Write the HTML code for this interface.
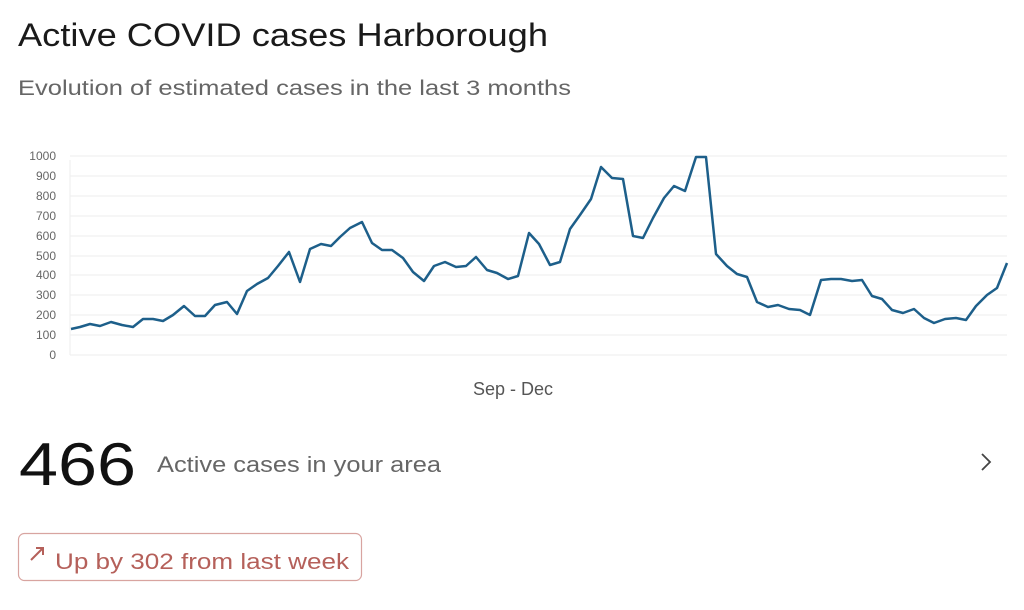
<!DOCTYPE html>
<html><head><meta charset="utf-8"><style>
html,body{margin:0;padding:0;background:#fff;width:1024px;height:610px;overflow:hidden}
text{font-family:"Liberation Sans",sans-serif}
</style></head><body>
<svg width="1024" height="610" viewBox="0 0 1024 610" xmlns="http://www.w3.org/2000/svg">
<text x="18" y="46" font-size="32" fill="#1a1a1a" textLength="530" lengthAdjust="spacingAndGlyphs">Active COVID cases Harborough</text>
<text x="18" y="95" font-size="21" fill="#666" textLength="553" lengthAdjust="spacingAndGlyphs">Evolution of estimated cases in the last 3 months</text>
<g stroke="#eeeeee" stroke-width="1">
<line x1="70" y1="156" x2="1007" y2="156"/><line x1="70" y1="176" x2="1007" y2="176"/><line x1="70" y1="196" x2="1007" y2="196"/><line x1="70" y1="216" x2="1007" y2="216"/><line x1="70" y1="236" x2="1007" y2="236"/><line x1="70" y1="256" x2="1007" y2="256"/><line x1="70" y1="275" x2="1007" y2="275"/><line x1="70" y1="295" x2="1007" y2="295"/><line x1="70" y1="315" x2="1007" y2="315"/><line x1="70" y1="335" x2="1007" y2="335"/><line x1="70" y1="355" x2="1007" y2="355"/>
<line x1="70" y1="160" x2="70" y2="355"/>
</g>
<g font-size="12" fill="#666" text-anchor="end">
<text x="56" y="160">1000</text><text x="56" y="180">900</text><text x="56" y="200">800</text><text x="56" y="220">700</text><text x="56" y="240">600</text><text x="56" y="260">500</text><text x="56" y="279">400</text><text x="56" y="299">300</text><text x="56" y="319">200</text><text x="56" y="339">100</text><text x="56" y="359">0</text>
</g>
<polyline fill="none" stroke="#1d5f8a" stroke-width="2.5" stroke-linejoin="round" points="71,329 80,327 90,324 100,326 111,322 122,325 133,327 143,319 153,319 163,321 173,315 184,306 195,316 205,316 215,305 227,302 237,314 247,291 257,284 268,278 278,266 289,252 300,282 310,249 321,244 331,246 340,237 350,228 362,222 372,243 382,250 392,250 403,258 413,272 424,281 434,266 445,262 456,267 466,266 476,257 487,270 497,273 508,279 518,276 529,233 539,244 550,265 560,262 570,229 580,215 591,199 601,167 612,178 623,179 633,236 643,238 653,218 664,198 674,186 685,191 696,157 706,157 716,254 727,266 737,274 747,277 757,302 768,307 778,305 789,309 800,310 810,315 821,280 831,279 841,279 852,281 862,280 872,296 882,299 892,310 903,313 914,309 924,318 934,323 945,319 956,318 966,320 976,306 987,295 997,288 1007,263"/>
<text x="513" y="395" font-size="18" fill="#555" text-anchor="middle">Sep - Dec</text>
<text x="19" y="485" font-size="60" fill="#111" textLength="117" lengthAdjust="spacingAndGlyphs">466</text>
<text x="157" y="472" font-size="22" fill="#666" textLength="284" lengthAdjust="spacingAndGlyphs">Active cases in your area</text>
<polyline points="982,454 990,462 982,470" fill="none" stroke="#444" stroke-width="1.8"/>
<rect x="18.5" y="533.5" width="343" height="47" rx="6" fill="none" stroke="#d8a4a0" stroke-width="1.2"/>
<g stroke="#b5605a" stroke-width="2" fill="none"><line x1="31" y1="560" x2="43" y2="548"/><polyline points="36,548 43,548 43,555"/></g>
<text x="55" y="569" font-size="22" fill="#b5605a" textLength="294" lengthAdjust="spacingAndGlyphs">Up by 302 from last week</text>
</svg>
</body></html>
